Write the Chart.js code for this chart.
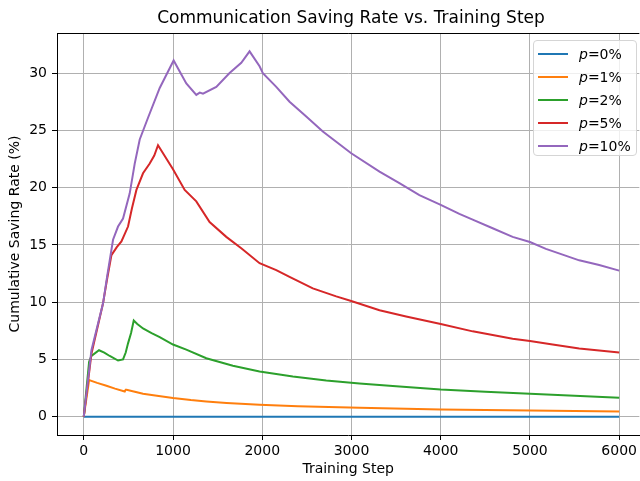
<!DOCTYPE html>
<html>
<head>
<meta charset="utf-8">
<script src="https://cdn.jsdelivr.net/npm/chart.js@4.4.0/dist/chart.umd.min.js"></script>
<style>
  html, body { margin: 0; padding: 0; background: #fff; }
  #wrap { position: relative; width: 640px; height: 481px; overflow: hidden; }
  #legend {
    position: absolute; left: 533px; top: 40px; width: 104px; height: 116px;
    box-sizing: border-box; padding-top: 1px;
    background: rgba(255, 255, 255, 0.8);
    border: 1px solid #d5d5d5; border-radius: 4px;
    font-family: 'DejaVu Sans', sans-serif; font-size: 14px; color: #000;
  }
  .row { height: 23px; display: flex; align-items: center; }
  .swatch { width: 30px; height: 2px; margin-left: 4px; margin-right: 11px; }
</style>
</head>
<body>
<div id="wrap">
  <canvas id="savingChart" width="640" height="481"></canvas>
  <div id="legend"></div>
</div>
<script>
// Data
const seriesLabels = ['0%', '1%', '2%', '5%', '10%'];

const steps0 = [0, 1000, 2000, 3000, 4000, 5000, 6000];
const rate0 = [0, 0, 0, 0, 0, 0, 0];

const steps1 = [0, 60, 150, 254, 350, 459, 470, 480, 560, 664, 800, 1000, 1200, 1373, 1600, 1970, 2400, 3090, 4000, 5000, 6000];
const rate1 = [0, 3.2, 2.95, 2.7, 2.45, 2.2, 2.35, 2.35, 2.2, 2.0, 1.85, 1.63, 1.45, 1.33, 1.2, 1.05, 0.92, 0.78, 0.63, 0.54, 0.46];

const steps2 = [0, 60, 86, 171, 230, 291, 384, 440, 470, 496, 530, 560, 600, 664, 760, 851, 1000, 1149, 1373, 1671, 1970, 2343, 2717, 3090, 3500, 4000, 4500, 5000, 5500, 6000];
const rate2 = [0, 4.8, 5.3, 5.8, 5.6, 5.3, 4.9, 5.0, 5.6, 6.4, 7.3, 8.4, 8.1, 7.7, 7.3, 6.95, 6.3, 5.85, 5.1, 4.45, 3.95, 3.5, 3.15, 2.9, 2.65, 2.37, 2.18, 2.0, 1.82, 1.65];

const steps5 = [0, 86, 216, 261, 310, 370, 422, 496, 540, 590, 664, 739, 790, 832, 1000, 1131, 1261, 1410, 1597, 1765, 1970, 2157, 2306, 2567, 2829, 2997, 3314, 3612, 4000, 4358, 4806, 5000, 5254, 5552, 6000];
const rate5 = [0, 5.5, 9.9, 12.0, 14.1, 14.8, 15.3, 16.6, 18.2, 19.8, 21.25, 22.1, 22.8, 23.7, 21.6, 19.8, 18.8, 17.0, 15.7, 14.7, 13.4, 12.8, 12.2, 11.2, 10.5, 10.1, 9.3, 8.75, 8.1, 7.45, 6.8, 6.6, 6.3, 5.95, 5.6];

const steps10 = [0, 86, 216, 261, 328, 384, 440, 515, 571, 627, 720, 851, 1007, 1149, 1261, 1300, 1336, 1485, 1634, 1765, 1858, 1970, 2007, 2157, 2306, 2493, 2679, 2829, 2997, 3314, 3537, 3761, 4000, 4209, 4358, 4582, 4806, 5000, 5179, 5366, 5552, 5776, 6000];
const rate10 = [0, 5.8, 9.9, 12.2, 15.45, 16.6, 17.3, 19.5, 22.1, 24.2, 26.1, 28.7, 31.1, 29.1, 28.1, 28.3, 28.2, 28.8, 30.0, 30.9, 31.9, 30.6, 30.0, 28.8, 27.5, 26.2, 24.9, 24.0, 23.0, 21.4, 20.4, 19.35, 18.5, 17.7, 17.2, 16.45, 15.7, 15.25, 14.65, 14.15, 13.65, 13.25, 12.75];

const xTicks = [0, 1000, 2000, 3000, 4000, 5000, 6000];
const yTicks = [0, 5, 10, 15, 20, 25, 30];

const allSteps = [steps0, steps1, steps2, steps5, steps10];
const allRates = [rate0, rate1, rate2, rate5, rate10];
const colors = ['#1f77b4', '#ff7f0e', '#2ca02c', '#d62728', '#9467bd'];

const FONT = "'DejaVu Sans', sans-serif";
Chart.defaults.font.family = FONT;
Chart.defaults.color = '#000';

// matplotlib-like frame: top spine + centered title over the axes
const framePlugin = {
  id: 'frame',
  afterDatasetsDraw(chart) {
    const { ctx, chartArea } = chart;
    ctx.save();
    ctx.strokeStyle = '#000';
    ctx.lineWidth = 1;
    ctx.beginPath();
    ctx.moveTo(chartArea.left, chartArea.top + 0.5);
    ctx.lineTo(chartArea.right, chartArea.top + 0.5);
    ctx.stroke();
    ctx.restore();
  },
  afterDraw(chart) {
    const { ctx, chartArea } = chart;
    ctx.save();
    ctx.fillStyle = '#000';
    ctx.font = '17px ' + FONT;
    ctx.textAlign = 'center';
    ctx.textBaseline = 'middle';
    ctx.fillText('Communication Saving Rate vs. Training Step', 351, 19);
    ctx.restore();
  }
};

const datasets = allSteps.map((steps, i) => ({
  label: 'p=' + seriesLabels[i],
  data: steps.map((s, j) => ({ x: s, y: allRates[i][j] })),
  borderColor: colors[i],
  backgroundColor: colors[i],
  borderWidth: 2,
  pointRadius: 0,
  tension: 0,
  order: allSteps.length - i
}));

new Chart(document.getElementById('savingChart'), {
  type: 'line',
  data: { datasets },
  plugins: [framePlugin],
  options: {
    responsive: false,
    animation: false,
    layout: { padding: { top: 33, right: 0, left: 0, bottom: 0 } },
    plugins: {
      legend: { display: false },
      tooltip: { enabled: false }
    },
    scales: {
      x: {
        type: 'linear',
        min: -300,
        max: 6226,
        afterBuildTicks: (scale) => { scale.ticks = xTicks.map(v => ({ value: v })); },
        afterFit: (scale) => { scale.height = 46; },
        ticks: { font: { size: 14 }, padding: 3, maxRotation: 0, callback: v => String(v) },
        grid: { color: '#b0b0b0', lineWidth: 1, tickColor: '#000', tickLength: 5 },
        border: { color: '#000', width: 1 },
        title: { display: true, text: 'Training Step', font: { size: 14 }, padding: { top: 0, bottom: 3 } }
      },
      y: {
        type: 'linear',
        min: -1.6,
        max: 33.5,
        afterBuildTicks: (scale) => { scale.ticks = yTicks.map(v => ({ value: v })); },
        afterFit: (scale) => { scale.width = 57; },
        ticks: { font: { size: 14 }, padding: 5, callback: v => String(v) },
        grid: { color: '#b0b0b0', lineWidth: 1, tickColor: '#000', tickLength: 5 },
        border: { color: '#000', width: 1 },
        title: { display: true, text: 'Cumulative Saving Rate (%)', font: { size: 14 }, padding: { top: 7, bottom: 0 } }
      }
    }
  }
});

// legend box in the upper right, like matplotlib's loc='best'
const legend = document.getElementById('legend');
seriesLabels.forEach((lab, i) => {
  const row = document.createElement('div');
  row.className = 'row';
  row.innerHTML = '<span class="swatch" style="background:' + colors[i] + '"></span><span><i>p</i>=' + lab + '</span>';
  legend.appendChild(row);
});
</script>
</body>
</html>
